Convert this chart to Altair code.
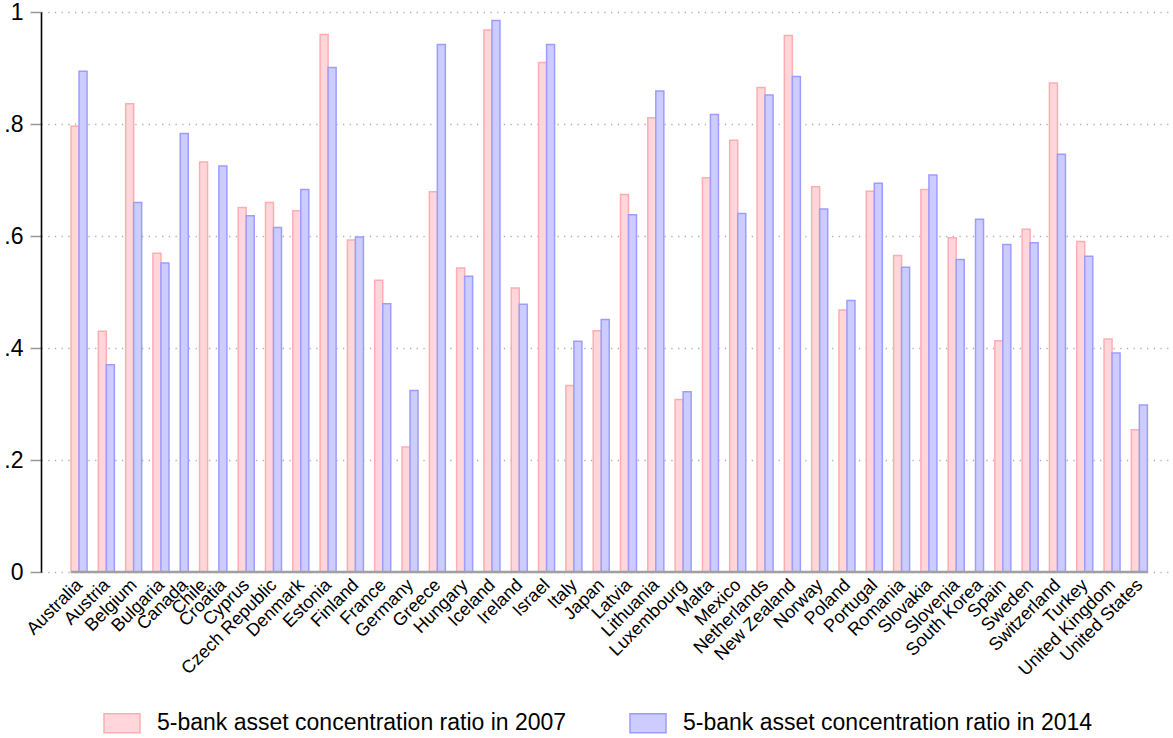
import altair as alt
import pandas as pd

countries = ["Australia", "Austria", "Belgium", "Bulgaria", "Canada", "Chile", "Croatia",
             "Cyprus", "Czech Republic", "Denmark", "Estonia", "Finland", "France", "Germany",
             "Greece", "Hungary", "Iceland", "Ireland", "Israel", "Italy", "Japan", "Latvia",
             "Lithuania", "Luxembourg", "Malta", "Mexico", "Netherlands", "New Zealand", "Norway",
             "Poland", "Portugal", "Romania", "Slovakia", "Slovenia", "South Korea", "Spain",
             "Sweden", "Switzerland", "Turkey", "United Kingdom", "United States"]

ratio_2007 = [0.796, 0.430, 0.836, 0.569, None, 0.732, None, 0.651, 0.660, 0.645, 0.960,
              0.593, 0.521, 0.223, 0.679, 0.543, 0.968, 0.507, 0.910, 0.333, 0.431, 0.674,
              0.811, 0.308, 0.704, 0.771, 0.865, 0.958, 0.688, 0.468, 0.680, 0.565, 0.683,
              0.597, None, 0.413, 0.612, 0.873, 0.590, 0.416, 0.254]

ratio_2014 = [0.894, 0.370, 0.660, 0.552, 0.783, None, 0.725, 0.636, 0.615, 0.683, 0.901,
              0.598, 0.479, 0.324, 0.942, 0.528, 0.985, 0.478, 0.942, 0.412, 0.451, 0.638,
              0.859, 0.322, 0.817, 0.640, 0.852, 0.885, 0.648, 0.485, 0.694, 0.544, 0.709,
              0.558, 0.630, 0.585, 0.588, 0.746, 0.564, 0.391, 0.298]

series_names = ["5-bank asset concentration ratio in 2007",
                "5-bank asset concentration ratio in 2014"]
y_ticks = [0, 0.2, 0.4, 0.6, 0.8, 1]

FILLS = ["#ffd6d9", "#ccccff"]
STROKES = ["#ffadb3", "#9d9dff"]
FONT = "Liberation Sans"
GAP = 1.41          # gap between country groups, in bar widths
PAD_L, PAD_R = 3.75, 3.2   # outer gaps, in bar widths

# layout of bar slots (Stata style: missing bars take no slot)
rows = []
slot = 0
for gi, c in enumerate(countries):
    for name, vals in zip(series_names, (ratio_2007, ratio_2014)):
        v = vals[gi]
        if v is None:
            continue
        x0 = slot + gi * GAP
        rows.append({"country": c, "series": name, "value": v, "x0": x0, "x1": x0 + 1})
        slot += 1
bars_df = pd.DataFrame(rows)
lab_df = bars_df.groupby("country", sort=False).agg(lo=("x0", "min"), hi=("x1", "max")).reset_index()
lab_df["xc"] = (lab_df["lo"] + lab_df["hi"]) / 2

xdom = [bars_df["x0"].min() - PAD_L, bars_df["x1"].max() + PAD_R]
xscale = alt.Scale(domain=xdom, nice=False, zero=False)
yscale = alt.Scale(domain=[0, 1], nice=False)

legend = alt.Legend(
    orient="none", legendX=62, legendY=692, direction="horizontal", title=None,
    symbolType="M-1,-0.528H1V0.528H-1Z", symbolSize=1296, symbolStrokeWidth=1.5,
    labelFontSize=23, labelFont=FONT, labelColor="black", labelLimit=800,
    labelOffset=16, columnPadding=60, padding=0,
)

bars = alt.Chart(bars_df).mark_rect(strokeWidth=1.5).encode(
    x=alt.X("x0:Q", scale=xscale, axis=None),
    x2="x1:Q",
    y=alt.Y("value:Q", scale=yscale, title=None,
            axis=alt.Axis(values=y_ticks, grid=True, gridColor="#b0b0b0", gridDash=[1.3, 5.4],
                          gridWidth=1.3, domainColor="black", domainWidth=1.6,
                          tickColor="#999999", tickSize=11, tickWidth=1.5,
                          labelFontSize=23, labelFont=FONT, labelColor="black",
                          labelPadding=7,
                          labelExpr="datum.value == 0 ? '0' : datum.value == 1 ? '1' : replace(format(datum.value, '.1f'), '0.', '.')")),
    y2=alt.datum(0),
    fill=alt.Fill("series:N", scale=alt.Scale(domain=series_names, range=FILLS), legend=legend),
    stroke=alt.Stroke("series:N", scale=alt.Scale(domain=series_names, range=STROKES), legend=legend),
)

baseline = alt.Chart(bars_df).mark_rule(color="#a0a0a0", strokeWidth=2.5).encode(
    x=alt.X("min(x0):Q", scale=xscale),
    x2="max(x1):Q",
    y=alt.datum(0),
)

labels = alt.Chart(lab_df).mark_text(
    angle=315, align="right", baseline="middle", fontSize=18, font=FONT, color="black",
    dx=-7, dy=8,
).encode(
    x=alt.X("xc:Q", scale=xscale),
    y=alt.datum(0),
    text="country:N",
)

chart = alt.layer(bars, baseline, labels).properties(
    width=1132, height=560,
    autosize=alt.AutoSizeParams(type="none"),
    padding={"left": 41, "top": 12, "right": 0, "bottom": 166},
).configure(font=FONT).configure_view(stroke=None)

chart.save("out.html", embed_options={"renderer": "svg", "actions": False})
